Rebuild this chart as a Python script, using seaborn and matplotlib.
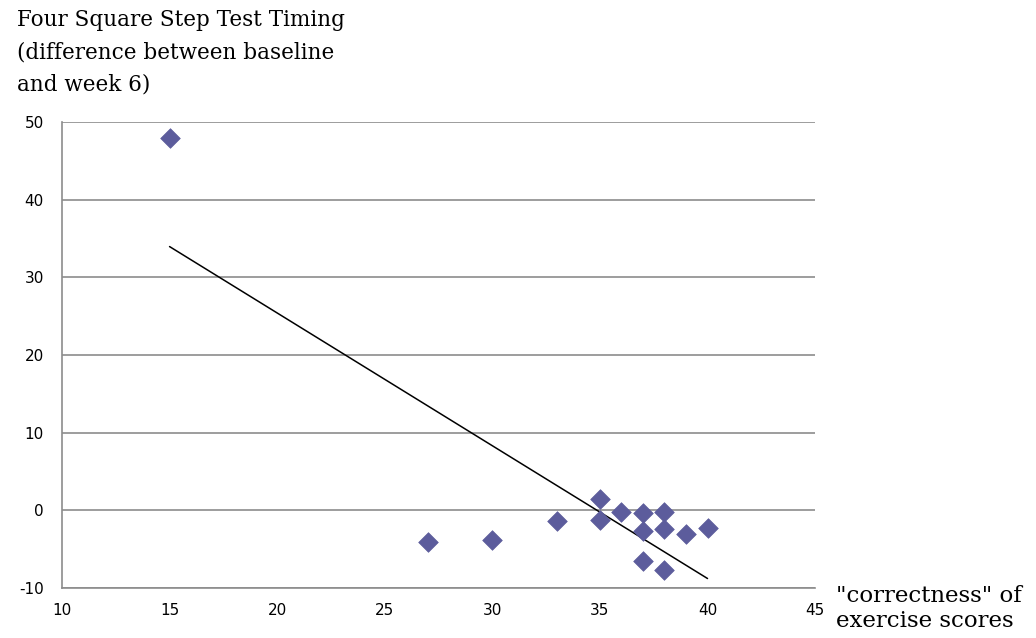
import numpy as np
import pandas as pd
import matplotlib
matplotlib.use("Agg")
import matplotlib.pyplot as plt
import seaborn as sns

# Data
correctness = [15, 27, 30, 33, 35, 35, 36, 37, 37, 37, 38, 38, 38, 39, 40]
timing_diff = [48, -4.1, -3.8, -1.4, 1.4, -1.2, -0.2, -0.4, -2.6, -6.5, -0.2, -2.4, -7.7, -3.0, -2.3]
x_ticks = [10, 15, 20, 25, 30, 35, 40, 45]
y_ticks = [-10, 0, 10, 20, 30, 40, 50]

df = pd.DataFrame({"x": correctness, "y": timing_diff})

sns.set_style("white")
plt.rcParams['font.family'] = ['DejaVu Sans']
plt.rcParams['axes.unicode_minus'] = False
plt.rcParams['text.color'] = 'black'

fig = plt.figure(figsize=(10.36, 6.38), dpi=100)
ax = fig.add_axes([0.0598, 0.0784, 0.7270, 0.7304])

for yv in y_ticks:
    ax.axhline(yv, color="#8c8c8c", lw=1.2, zorder=0)

sns.scatterplot(data=df, x="x", y="y", marker="D", s=100, color="#5c5c9c",
                edgecolor="#5c5c9c", linewidth=0.5, ax=ax, zorder=3)

# linear trendline
coef = np.polyfit(df["x"], df["y"], 1)
xs = np.array([min(correctness), max(correctness)])
ax.plot(xs, np.polyval(coef, xs), color="black", lw=1.1, zorder=2)

ax.set_xlim(10, 45)
ax.set_ylim(-10, 50)
ax.set_xticks(x_ticks)
ax.set_yticks(y_ticks)
ax.set_xlabel("")
ax.set_ylabel("")
for s in ["top", "right"]:
    ax.spines[s].set_visible(False)
for s in ["left", "bottom"]:
    ax.spines[s].set_color("#8c8c8c")
    ax.spines[s].set_linewidth(1.2)
ax.tick_params(axis="both", direction="out", length=5, width=1, color="#8c8c8c",
               labelsize=11, labelcolor="black", pad=6)
ax.tick_params(axis="y", pad=8)

fig.text(17 / 1036, 1 - 9 / 638,
         "Four Square Step Test Timing\n(difference between baseline\nand week 6)",
         ha="left", va="top", family="DejaVu Serif", fontsize=15.5, linespacing=1.6,
         color="black")
fig.text(836 / 1036, 1 - 585 / 638, "\"correctness\" of\nexercise scores",
         ha="left", va="top", family="DejaVu Serif", fontsize=16.5, linespacing=1.2,
         color="black")

fig.savefig("out.png", dpi=100)
